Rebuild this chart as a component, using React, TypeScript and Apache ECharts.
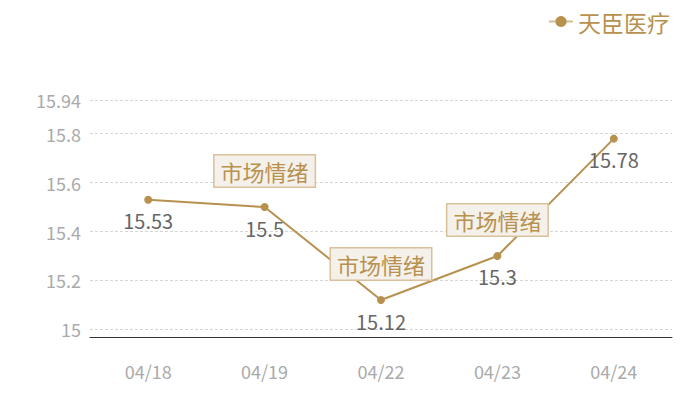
import { useEffect, useRef } from 'react';
import * as echarts from 'echarts';

const dates = ['04/18', '04/19', '04/22', '04/23', '04/24'];
const prices = [15.53, 15.5, 15.12, 15.3, 15.78];
const seriesName = '天臣医疗';
const markDates = ['04/19', '04/22', '04/23'];
const markText = '市场情绪';

const gold = '#b8914f';
const font = "'Microsoft YaHei', 'Noto Sans CJK SC', sans-serif";

const App = () => {
  const chartRef = useRef<HTMLDivElement>(null);

  useEffect(() => {
    if (!chartRef.current) return;
    const chart = echarts.init(chartRef.current, null, { renderer: 'svg' });

    const markData = markDates.map((d) => ({
      coord: [d, prices[dates.indexOf(d)]],
      value: markText,
    }));

    chart.setOption({
      animation: false,
      textStyle: { fontFamily: font },
      legend: {
        top: 5,
        right: 25,
        itemWidth: 24,
        itemHeight: 14,
        lineStyle: { color: '#d4bc94', width: 2 },
        textStyle: { color: gold, fontSize: 23, fontFamily: font },
        data: [seriesName],
      },
      grid: { left: 90, right: 28, top: 100, bottom: 63 },
      xAxis: {
        type: 'category',
        data: dates,
        axisLine: { lineStyle: { color: '#333', width: 1 } },
        axisTick: { show: false },
        axisLabel: { color: '#aaa', fontSize: 18, margin: 25, fontFamily: font },
      },
      yAxis: {
        type: 'value',
        min: (v: { min: number }) => v.min * 0.99,
        max: (v: { max: number }) => v.max * 1.01,
        axisLine: { show: false },
        axisTick: { show: false },
        axisLabel: {
          color: '#aaa',
          fontSize: 18,
          margin: 9,
          fontFamily: font,
          showMinLabel: false,
          formatter: (v: number) => String(+v.toFixed(2)),
        },
        splitLine: { lineStyle: { color: '#d6d6d6', type: [3, 2] } },
      },
      series: [
        {
          name: seriesName,
          type: 'line',
          data: prices,
          symbol: 'circle',
          symbolSize: 8,
          lineStyle: { color: gold, width: 2 },
          itemStyle: { color: gold },
          label: {
            show: true,
            position: 'bottom',
            distance: 7,
            color: '#666',
            fontSize: 20,
            fontFamily: font,
          },
          markPoint: {
            symbol: 'circle',
            symbolSize: 1,
            itemStyle: { color: 'rgba(0,0,0,0)' },
            label: {
              show: true,
              position: 'inside',
              offset: [0, -36],
              formatter: markText,
              color: gold,
              fontSize: 22,
              fontFamily: font,
              backgroundColor: '#f4f0ea',
              borderColor: '#d9c19a',
              borderWidth: 1.5,
              padding: [5, 6, 4, 6],
            },
            data: markData,
          },
        },
      ],
    });

    return () => chart.dispose();
  }, []);

  return <div ref={chartRef} style={{ width: 700, height: 400, margin: -8 }} />;
};

export default App;
